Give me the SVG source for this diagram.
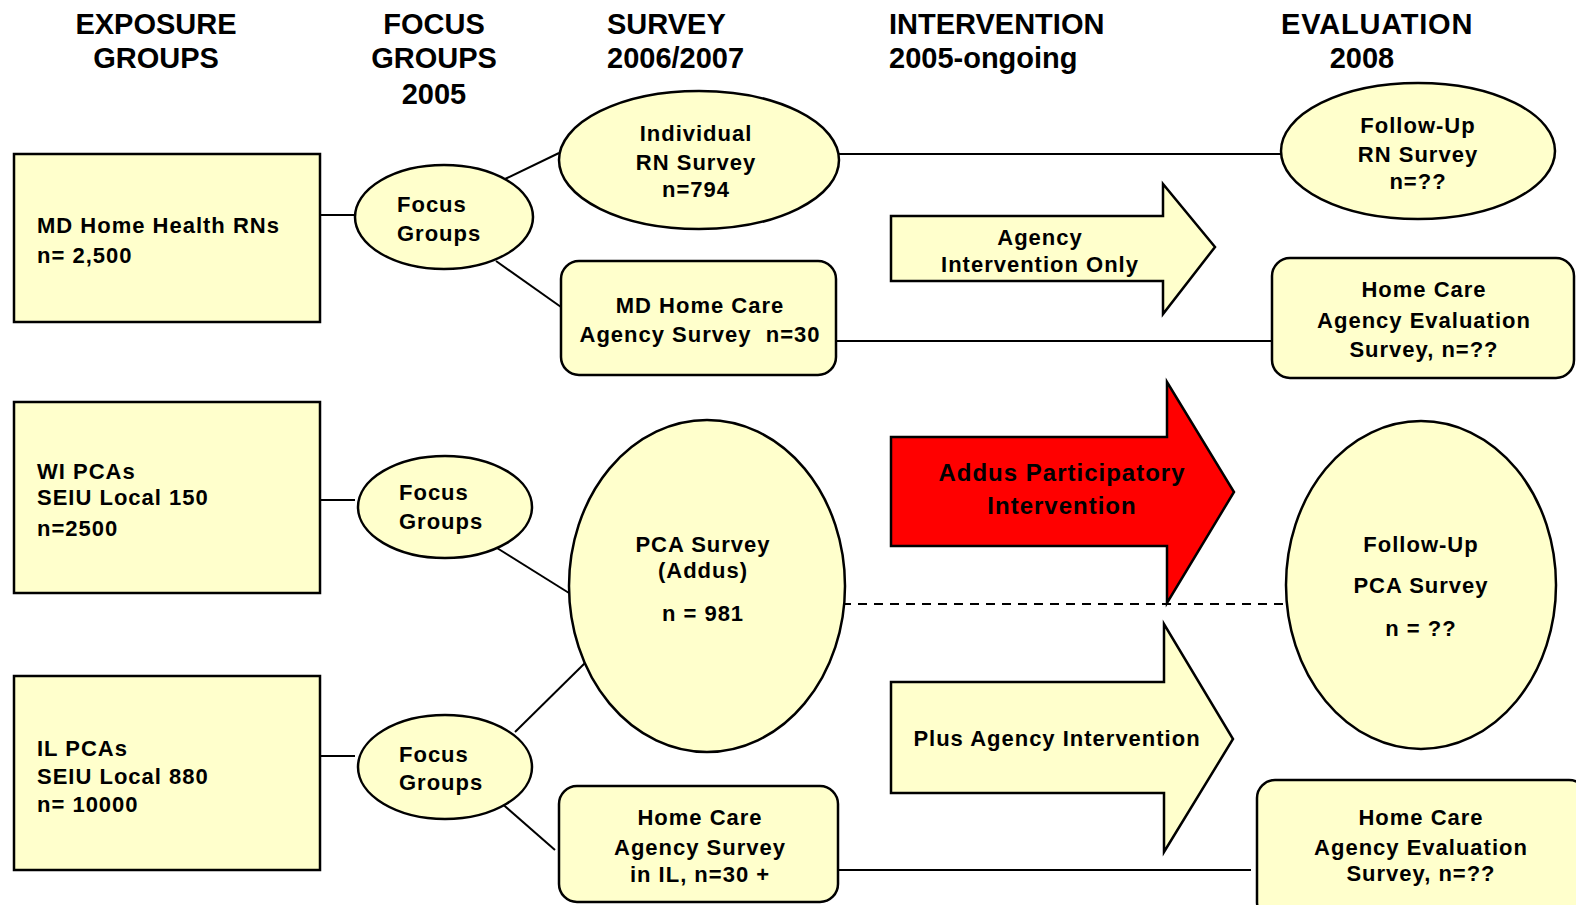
<svg xmlns="http://www.w3.org/2000/svg" width="1576" height="905" viewBox="0 0 1576 905">
<style>
.hd{font-family:"Liberation Sans",Arial,sans-serif;font-weight:bold;font-size:29px;fill:#000}
.t{font-family:"Liberation Sans",Arial,sans-serif;font-weight:bold;font-size:22px;letter-spacing:1px;fill:#000}
.tb{font-family:"Liberation Sans",Arial,sans-serif;font-weight:bold;font-size:24px;letter-spacing:1px;fill:#000}
.c{text-anchor:middle}
.n{fill:#FFFFCC;stroke:#000;stroke-width:2.5}
.red{fill:#FF0000;stroke:#000;stroke-width:2.5}
.ln{stroke:#000;stroke-width:2;fill:none}
.dash{stroke:#000;stroke-width:2;fill:none;stroke-dasharray:9,7}
</style>
<rect width="1576" height="905" fill="#fff"/>
<g id="headers">
<text class="hd c" x="156" y="34">EXPOSURE</text>
<text class="hd c" x="156" y="68">GROUPS</text>
<text class="hd c" x="434" y="34">FOCUS</text>
<text class="hd c" x="434" y="68">GROUPS</text>
<text class="hd c" x="434" y="104">2005</text>
<text class="hd" x="607" y="34">SURVEY</text>
<text class="hd" x="607" y="68">2006/2007</text>
<text class="hd" x="889" y="34">INTERVENTION</text>
<text class="hd" x="889" y="68">2005-ongoing</text>
<text class="hd" x="1281" y="34" letter-spacing="0.8">EVALUATION</text>
<text class="hd c" x="1362" y="68">2008</text>
</g>
<g id="connectors">
<line class="ln" x1="320" y1="215" x2="355" y2="215"/>
<line class="ln" x1="505" y1="179" x2="559" y2="153"/>
<line class="ln" x1="496" y1="261" x2="561" y2="307"/>
<line class="ln" x1="839" y1="154" x2="1288" y2="154"/>
<line class="ln" x1="836" y1="341" x2="1272" y2="341"/>
<line class="ln" x1="320" y1="500" x2="355" y2="500"/>
<line class="ln" x1="497" y1="548" x2="569" y2="593"/>
<line class="ln" x1="320" y1="756" x2="355" y2="756"/>
<line class="ln" x1="515" y1="732" x2="585" y2="663"/>
<line class="ln" x1="499" y1="801" x2="555" y2="850"/>
<line class="dash" x1="842" y1="604" x2="1286" y2="604"/>
<line class="ln" x1="838" y1="870" x2="1251" y2="870"/>
</g>
<g id="md-rns">
<rect class="n" x="14" y="154" width="306" height="168"/>
<text class="t" x="37" y="233">MD Home Health RNs</text>
<text class="t" x="37" y="263">n= 2,500</text>
</g>
<g id="focus1">
<ellipse class="n" cx="444" cy="217" rx="89" ry="52"/>
<text class="t" x="397" y="212">Focus</text>
<text class="t" x="397" y="241">Groups</text>
</g>
<g id="rn-survey">
<ellipse class="n" cx="699" cy="160" rx="140" ry="69"/>
<text class="t c" x="696" y="141">Individual</text>
<text class="t c" x="696" y="170">RN Survey</text>
<text class="t c" x="696" y="197">n=794</text>
</g>
<g id="md-agency-survey">
<rect class="n" x="561" y="261" width="275" height="114" rx="18"/>
<text class="t c" x="700" y="313">MD Home Care</text>
<text class="t c" x="700" y="342">Agency Survey &#160;n=30</text>
</g>
<g id="wi-pcas">
<rect class="n" x="14" y="402" width="306" height="191"/>
<text class="t" x="37" y="479">WI PCAs</text>
<text class="t" x="37" y="505">SEIU Local 150</text>
<text class="t" x="37" y="536">n=2500</text>
</g>
<g id="focus2">
<ellipse class="n" cx="445" cy="507" rx="87" ry="51"/>
<text class="t" x="399" y="500">Focus</text>
<text class="t" x="399" y="529">Groups</text>
</g>
<g id="pca-survey">
<ellipse class="n" cx="707" cy="586" rx="138" ry="166"/>
<text class="t c" x="703" y="552">PCA Survey</text>
<text class="t c" x="703" y="578">(Addus)</text>
<text class="t c" x="703" y="621">n = 981</text>
</g>
<g id="il-pcas">
<rect class="n" x="14" y="676" width="306" height="194"/>
<text class="t" x="37" y="756">IL PCAs</text>
<text class="t" x="37" y="784">SEIU Local 880</text>
<text class="t" x="37" y="812">n= 10000</text>
</g>
<g id="focus3">
<ellipse class="n" cx="445" cy="767" rx="87" ry="52"/>
<text class="t" x="399" y="762">Focus</text>
<text class="t" x="399" y="790">Groups</text>
</g>
<g id="il-agency-survey">
<rect class="n" x="559" y="786" width="279" height="116" rx="18"/>
<text class="t c" x="700" y="825">Home Care</text>
<text class="t c" x="700" y="855">Agency Survey</text>
<text class="t c" x="700" y="882">in IL, n=30 +</text>
</g>
<g id="agency-only">
<polygon class="n" points="891,216 1163,216 1163,184 1215,247 1163,314 1163,281 891,281"/>
<text class="t c" x="1040" y="245">Agency</text>
<text class="t c" x="1040" y="272">Intervention Only</text>
</g>
<g id="addus-intervention">
<polygon class="red" points="891,437 1167,437 1167,382 1234,492 1167,603 1167,546 891,546"/>
<text class="tb c" x="1062" y="481">Addus Participatory</text>
<text class="tb c" x="1062" y="514">Intervention</text>
</g>
<g id="plus-agency">
<polygon class="n" points="891,682 1164,682 1164,624 1233,739 1164,852 1164,793 891,793"/>
<text class="t c" x="1057" y="746">Plus Agency Intervention</text>
</g>
<g id="followup-rn">
<ellipse class="n" cx="1418" cy="151" rx="137" ry="68"/>
<text class="t c" x="1418" y="133">Follow-Up</text>
<text class="t c" x="1418" y="162">RN Survey</text>
<text class="t c" x="1418" y="189">n=??</text>
</g>
<g id="eval-md">
<rect class="n" x="1272" y="258" width="302" height="120" rx="18"/>
<text class="t c" x="1424" y="297">Home Care</text>
<text class="t c" x="1424" y="328">Agency Evaluation</text>
<text class="t c" x="1424" y="357">Survey, n=??</text>
</g>
<g id="followup-pca">
<ellipse class="n" cx="1421" cy="585" rx="135" ry="164"/>
<text class="t c" x="1421" y="552">Follow-Up</text>
<text class="t c" x="1421" y="593">PCA Survey</text>
<text class="t c" x="1421" y="636">n = ??</text>
</g>
<g id="eval-il">
<rect class="n" x="1257" y="780" width="330" height="140" rx="18"/>
<text class="t c" x="1421" y="825">Home Care</text>
<text class="t c" x="1421" y="855">Agency Evaluation</text>
<text class="t c" x="1421" y="881">Survey, n=??</text>
</g>
</svg>
